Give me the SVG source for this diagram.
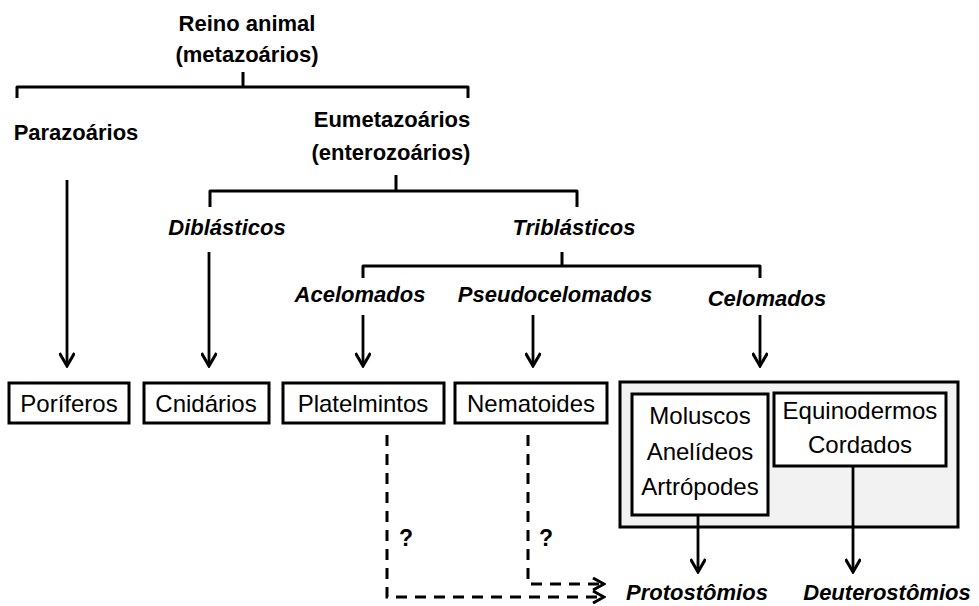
<svg xmlns="http://www.w3.org/2000/svg" width="979" height="606" viewBox="0 0 979 606">
<style>
text{font-family:"Liberation Sans",Arial,sans-serif;fill:#000;text-anchor:middle}
.h{font-weight:bold;font-size:22px}
.hi{font-weight:bold;font-style:italic;font-size:22px}
.r{font-size:24px}
.q{font-weight:bold;font-size:23px;text-anchor:start}
.br{fill:none;stroke:#000;stroke-width:3;stroke-linejoin:round}
.box{fill:#fff;stroke:#000;stroke-width:3}
.ar{fill:none;stroke:#000;stroke-width:2.8;marker-end:url(#ah)}
.da{fill:none;stroke:#000;stroke-width:3;stroke-dasharray:11,8;marker-end:url(#ah2)}
</style>
<defs>
<marker id="ah" viewBox="0 0 16 16" refX="14" refY="8" markerWidth="16" markerHeight="16" orient="auto" markerUnits="userSpaceOnUse">
<path d="M1,0.5 L14,8 L1,15.5" fill="none" stroke="#000" stroke-width="3"/>
</marker>
<marker id="ah2" viewBox="0 0 14 14" refX="12" refY="7" markerWidth="14" markerHeight="14" orient="auto" markerUnits="userSpaceOnUse">
<path d="M1,1 L12,7 L1,13" fill="none" stroke="#000" stroke-width="3"/>
</marker>
</defs>

<g id="reino"><text class="h" x="247" y="31">Reino animal</text><text class="h" x="247" y="62">(metazoários)</text></g>
<g id="parazoarios"><text class="h" x="76" y="140">Parazoários</text></g>
<g id="eumetazoarios"><text class="h" x="392" y="127">Eumetazoários</text><text class="h" x="391" y="160">(enterozoários)</text></g>
<g id="diblasticos"><text class="hi" x="227" y="235">Diblásticos</text></g>
<g id="triblasticos"><text class="hi" x="574" y="235">Triblásticos</text></g>
<g id="acelomados"><text class="hi" x="360" y="302">Acelomados</text></g>
<g id="pseudocelomados"><text class="hi" x="555" y="302">Pseudocelomados</text></g>
<g id="celomados"><text class="hi" x="767" y="306">Celomados</text></g>

<g id="poriferos"><rect class="box" x="9" y="383" width="120" height="40"/><text class="r" x="69" y="412">Poríferos</text></g>
<g id="cnidarios"><rect class="box" x="144" y="383" width="125" height="40"/><text class="r" x="206" y="412">Cnidários</text></g>
<g id="platelmintos"><rect class="box" x="283" y="383" width="161" height="40"/><text class="r" x="363" y="412">Platelmintos</text></g>
<g id="nematoides"><rect class="box" x="455" y="383" width="152" height="40"/><text class="r" x="531" y="412">Nematoides</text></g>
<g id="celomados-box"><rect x="620" y="382" width="338" height="145" fill="#f2f2f2" stroke="#000" stroke-width="3"/></g>
<g id="protostomios-grupo"><rect class="box" x="632" y="394" width="136" height="121"/><text class="r" x="700" y="424">Moluscos</text><text class="r" x="700" y="460">Anelídeos</text><text class="r" x="700" y="495">Artrópodes</text></g>
<g id="deuterostomios-grupo"><rect class="box" x="774" y="393" width="172" height="73"/><text class="r" x="860" y="419">Equinodermos</text><text class="r" x="860" y="453">Cordados</text></g>
<g id="protostomios"><text class="hi" x="697" y="600">Protostômios</text></g>
<g id="deuterostomios"><text class="hi" x="887" y="600">Deuterostômios</text></g>

<g id="connectors">
<path class="br" d="M17,98 V87 H468 V98 M243,87 V72"/>
<path class="br" d="M210,207 V191 H577 V207 M396,191 V175"/>
<path class="br" d="M363,278 V266 H760 V278 M562,266 V252"/>
<path class="ar" d="M67,180 V366"/>
<path class="ar" d="M209,252 V366"/>
<path class="ar" d="M363,315 V366"/>
<path class="ar" d="M533,315 V366"/>
<path class="ar" d="M760,315 V366"/>
<path class="ar" d="M698,515 V572"/>
<path class="ar" d="M853,466 V572"/>
<path class="da" d="M387,435 V597 H604"/>
<path class="da" d="M528,435 V584 H604"/>
<text class="q" x="399" y="546">?</text>
<text class="q" x="539" y="546">?</text>
</g>
</svg>
